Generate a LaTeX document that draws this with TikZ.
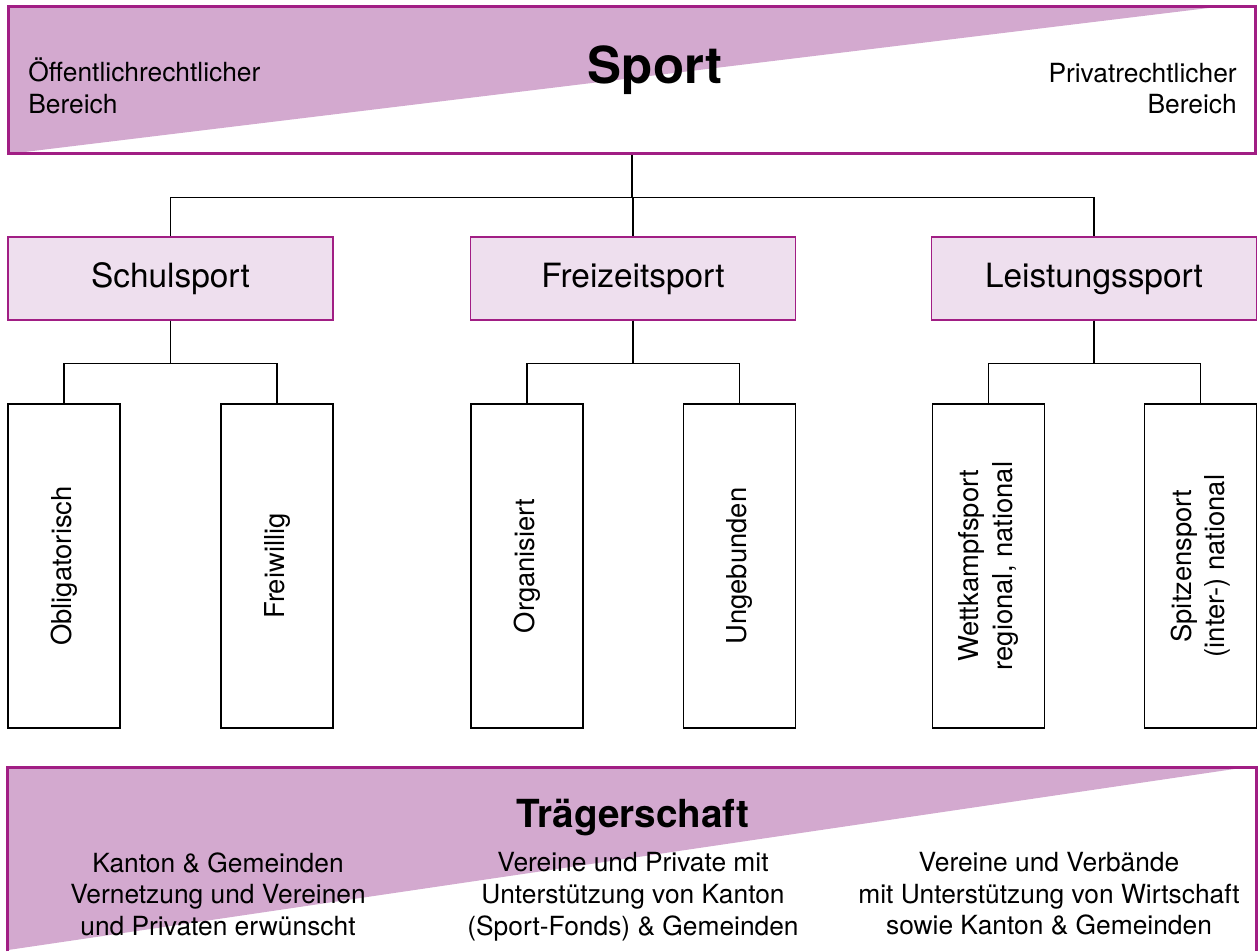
\documentclass[tikz,border=0pt]{standalone}
\usepackage{fontspec}
\setmainfont{TeX Gyre Heros}
\definecolor{lila}{RGB}{161,30,132}
\definecolor{keil}{RGB}{211,169,207}
\definecolor{hell}{RGB}{238,223,238}
\tikzset{
  rahmen/.style={draw=lila, line width=1.7pt},
  bereich/.style={draw=lila, fill=hell, line width=0.8pt, minimum width=6.5cm, minimum height=1.66cm, font=\fontsize{19}{23}\selectfont},
  sparte/.style={draw, line width=0.8pt, rotate=90, minimum width=6.48cm, minimum height=2.24cm, align=center, font=\fontsize{15.6}{19}\selectfont},
  klein/.style={align=center, font=\fontsize{15}{18}\selectfont},
  linie/.style={line width=0.8pt},
}
\begin{document}
\begin{tikzpicture}[x=0.02cm, y=-0.02cm]
\useasboundingbox (0,0) rectangle (1258,951);
% oben
\fill[keil] (8,6) -- (1225,6) -- (8,154) -- cycle;
\node[rahmen, minimum width=24.96cm, minimum height=2.96cm] (sport) at (632,80) {};
\node[anchor=base, font=\fontsize{29}{34}\selectfont\bfseries] (titel) at (655,83) {Sport};
\node[klein, align=left, anchor=west, inner sep=0pt] (oeff) at (28,86) {Öffentlichrechtlicher\\Bereich};
\node[klein, align=right, anchor=east, inner sep=0pt] (priv) at (1237,88.5) {Privatrechtlicher\\Bereich};
% zweite Ebene
\node[bereich] (schul) at (170.5,278.5) {Schulsport};
\node[bereich] (frei) at (633,278.5) {Freizeitsport};
\node[bereich] (leist) at (1094,278.5) {Leistungssport};
\draw[linie] (sport.south) -- ++(0,42) -| (schul.north);
\draw[linie] (sport.south) -- ++(0,42) -| (frei.north);
\draw[linie] (sport.south) -- ++(0,42) -| (leist.north);
% dritte Ebene
\node[sparte] (obl) at (64,566) {Obligatorisch};
\node[sparte] (frw) at (277,566) {Freiwillig};
\node[sparte] (org) at (527,566) {Organisiert};
\node[sparte] (ung) at (739.5,566) {Ungebunden};
\node[sparte] (wett) at (988.5,566) {Wettkampfsport\\regional, national};
\node[sparte] (spitz) at (1200.5,566) {Spitzensport\\(inter-) national};
\draw[linie] (schul.south) -- ++(0,43) -| (obl.east);
\draw[linie] (schul.south) -- ++(0,43) -| (frw.east);
\draw[linie] (frei.south) -- ++(0,43) -| (org.east);
\draw[linie] (frei.south) -- ++(0,43) -| (ung.east);
\draw[linie] (leist.south) -- ++(0,43) -| (wett.east);
\draw[linie] (leist.south) -- ++(0,43) -| (spitz.east);
% unten
\node[minimum width=24.96cm, minimum height=3.66cm] (traeger) at (632,859.5) {};
\fill[keil] (8,768) -- (1241,768) -- (8,950) -- cycle;
\node[anchor=base, font=\fontsize{22}{26}\selectfont\bfseries] (ttitel) at (633,827) {Trägerschaft};
\node[klein] (kanton) at (218,894) {Kanton \& Gemeinden\\Vernetzung und Vereinen\\und Privaten erwünscht};
\node[klein] (vereine) at (633,896.8) {Vereine und Private mit\\Unterstützung von Kanton\\(Sport-Fonds) \& Gemeinden};
\node[klein] (verbaende) at (1049,894) {Vereine und Verbände\\mit Unterstützung von Wirtschaft\\sowie Kanton \& Gemeinden};
\draw[rahmen] (traeger.south west) |- (traeger.north east) -- (traeger.south east);
\end{tikzpicture}
\end{document}
